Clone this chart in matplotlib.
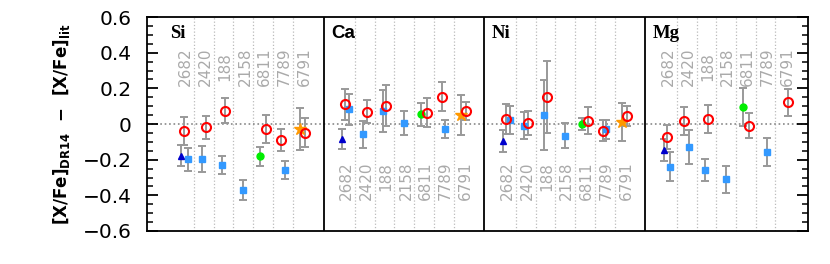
import numpy as np
import matplotlib.pyplot as plt

nan = np.nan

elements = ['Si', 'Ca', 'Ni', 'Mg']
stars = ['2682', '2420', '188', '2158', '6811', '7789', '6791']

# rows: Si, Ca, Ni, Mg ; columns follow `stars`
red_val = [[-0.039, -0.019, 0.073, nan, -0.030, -0.090, -0.049],
           [0.112, 0.069, 0.103, nan, 0.064, 0.153, 0.073],
           [0.030, 0.008, 0.152, nan, 0.019, -0.038, 0.045],
           [-0.071, 0.019, 0.028, nan, -0.009, nan, 0.122]]
red_err = [[0.080, 0.066, 0.070, nan, 0.078, 0.060, 0.080],
           [0.087, 0.064, 0.117, nan, 0.082, 0.081, 0.049],
           [0.084, 0.067, 0.200, nan, 0.075, 0.058, 0.058],
           [0.067, 0.079, 0.080, nan, 0.072, nan, 0.075]]

blue_val = [[-0.198, -0.198, -0.230, -0.371, nan, -0.258, nan],
            [0.083, -0.058, 0.073, 0.004, nan, -0.030, nan],
            [0.021, -0.009, 0.051, -0.067, nan, -0.030, nan],
            [-0.240, -0.131, -0.258, -0.310, nan, -0.159, nan]]
blue_err = [[0.064, 0.073, 0.052, 0.056, nan, 0.053, nan],
            [0.086, 0.077, 0.117, 0.068, nan, 0.051, nan],
            [0.078, 0.074, 0.195, 0.070, nan, 0.054, nan],
            [0.081, 0.096, 0.060, 0.076, nan, 0.078, nan]]

# single-source points (one value per element)
tri_val = [-0.178, -0.086, -0.096, -0.146]      # star 2682
tri_err = [0.058, 0.056, 0.060, 0.064]
green_val = [-0.181, 0.054, 0.000, 0.097]       # star 6811
green_err = [0.053, 0.064, 0.034, 0.106]
orange_val = [-0.030, 0.051, 0.013, nan]        # star 6791
orange_err = [0.117, 0.112, 0.107, nan]

# horizontal offsets inside each star group
red_dx = [0.0, 0.09, 0.09, 0.0, 0.14, -0.09, 0.13]
blue_dx = [0.17, -0.09, -0.09, 0.0, 0.0, 0.09, 0.0]
tri_dx, green_dx, orange_dx = -0.16, -0.14, -0.13
panel_step = 8.17

fig = plt.figure(figsize=(8.3, 2.64), dpi=100)
ax = fig.add_axes([147 / 830, 33 / 264, 661 / 830, 214 / 264])

ebkw = dict(fmt='none', ecolor='#999999', elinewidth=1.4, capsize=2.6,
            capthick=1.4, zorder=2)

for k, el in enumerate(elements):
    x0 = k * panel_step
    xs = x0 + np.arange(len(stars))
    rdx = np.array(red_dx)
    bdx = np.array(blue_dx)
    if el == 'Mg':
        rdx[1], bdx[1] = -0.12, 0.12

    # separators between star groups
    for j in range(len(stars) - 1):
        ax.axvline(x0 + j + 0.5, color='#bbbbbb', ls=':', lw=0.9, zorder=1)
    if k > 0:
        ax.axvline(x0 - 1.1, color='black', lw=1.3, zorder=3)

    ax.errorbar(xs + bdx, blue_val[k], yerr=blue_err[k], **ebkw)
    ax.errorbar(xs + rdx, red_val[k], yerr=red_err[k], **ebkw)
    ax.errorbar(x0 + tri_dx, tri_val[k], yerr=tri_err[k], **ebkw)
    ax.errorbar(x0 + 4 + green_dx, green_val[k], yerr=green_err[k], **ebkw)
    ax.errorbar(x0 + 6 + orange_dx, orange_val[k], yerr=orange_err[k], **ebkw)

    ax.plot(xs + bdx, blue_val[k], 's', color='#3399ff', ms=4, zorder=4)
    ax.plot(x0 + tri_dx, tri_val[k], '^', color='#0000cc', ms=4.5, zorder=4)
    ax.plot(x0 + 4 + green_dx, green_val[k], 'o', color='#00ee00', ms=5, zorder=4)
    ax.plot(x0 + 6 + orange_dx, orange_val[k], '*', color='#ff9900', ms=9, zorder=4)
    ax.plot(xs + rdx, red_val[k], 'o', mfc='none', mec='red', mew=1.5, ms=6.5,
            zorder=5)

    # element name
    fam = ['Liberation Sans'] if el == 'Ca' else ['Liberation Serif']
    ax.text(x0 - 0.72, 0.505, el, family=fam, fontweight='bold', fontsize=13.5,
            ha='left', va='center', zorder=6)

    # star names
    for j, s in enumerate(stars):
        if el in ('Si', 'Mg'):
            ax.text(xs[j] + 0.08, 0.323, s, rotation=90, ha='center', va='center',
                    fontsize=11, color='#aaaaaa', zorder=1)
        else:
            ax.text(xs[j] + 0.08, -0.211, s, rotation=90, ha='center', va='top',
                    fontsize=11, color='#aaaaaa', zorder=1)

ax.axhline(0, color='#888888', ls=':', lw=1.2, zorder=1)

ax.set_xlim(-1.89, 31.66)
ax.set_ylim(-0.6, 0.6)
ax.set_xticks([])
ax.set_yticks(np.arange(-0.6, 0.61, 0.2))
ax.set_yticklabels(['\u22120.6', '\u22120.4', '\u22120.2', '0', '0.2', '0.4', '0.6'])
ax.set_yticks(np.arange(-0.6, 0.61, 0.05), minor=True)
ax.tick_params(axis='y', which='both', direction='in', left=True, right=True,
               labelsize=14.5, pad=11)
ax.tick_params(axis='y', which='major', length=8, width=1.3)
ax.tick_params(axis='y', which='minor', length=4.5, width=1.1)
for sp in ax.spines.values():
    sp.set_linewidth(1.3)

plt.rcParams['mathtext.default'] = 'bf'
ax.set_ylabel(r'[X/Fe]$_{DR14}$  $-$  [X/Fe]$_{lit}$', fontsize=12,
              fontweight='bold', labelpad=8)

fig.savefig('out.png', dpi=100)
